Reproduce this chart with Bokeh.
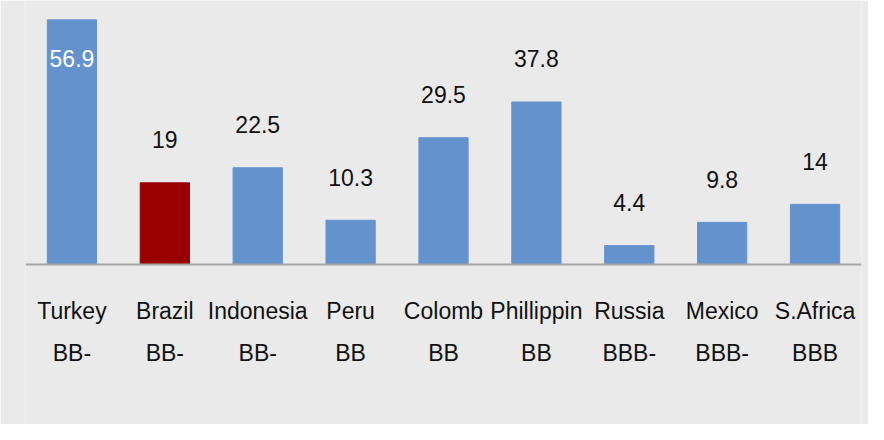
from bokeh.plotting import figure
from bokeh.models import ColumnDataSource, FactorRange, Range1d, Span
from bokeh.core.properties import value
from bokeh.embed import file_html
from bokeh.resources import INLINE

countries = ["Turkey", "Brazil", "Indonesia", "Peru", "Colomb", "Phillippin", "Russia", "Mexico", "S.Africa"]
ratings = ["BB-", "BB-", "BB-", "BB", "BB", "BB", "BBB-", "BBB-", "BBB"]
values = [56.9, 19, 22.5, 10.3, 29.5, 37.8, 4.4, 9.8, 14]
highlight = "Brazil"

BLUE = "#6492CD"
RED = "#990000"
BG = "#EAEAEA"
FONT = "Liberation Sans"

colors = [RED if c == highlight else BLUE for c in countries]
labels = [("%g" % v) for v in values]
ymax = 61.4
inside = [v > ymax - 10 for v in values]
lab_colors = ["white" if i else "#111111" for i in inside]
lab_offsets = [39 if i else -43 for i in inside]

src = ColumnDataSource(dict(
    x=countries, top=values, color=colors, label=labels,
    lab_color=lab_colors, lab_off=lab_offsets, rating=ratings,
    zero=[0] * len(countries),
))

p = figure(width=868, height=424, x_range=FactorRange(*countries),
           y_range=Range1d(-37.2, ymax), output_backend="svg",
           toolbar_location=None, min_border_left=25, min_border_right=7,
           min_border_top=0, min_border_bottom=0)
p.background_fill_color = BG
p.border_fill_color = BG
p.outline_line_color = None
p.xgrid.visible = False
p.ygrid.visible = False
p.xaxis.visible = False
p.yaxis.visible = False

p.vbar(x="x", top="top", bottom=0, width=0.53, color="color", line_color="color",
       source=src)

p.add_layout(Span(location=0, dimension="width", line_color="#A6A6A6", line_width=2))

p.text(x="x", y="top", text="label", text_color="lab_color", y_offset="lab_off",
       text_align="center", text_baseline="middle", text_font=value(FONT),
       text_font_size="23px", source=src)

p.text(x="x", y="zero", text="x", text_color="#111111", y_offset=46,
       text_align="center", text_baseline="middle", text_font=value(FONT),
       text_font_size="23px", source=src)
p.text(x="x", y="zero", text="rating", text_color="#111111", y_offset=88,
       text_align="center", text_baseline="middle", text_font=value(FONT),
       text_font_size="23px", source=src)

open("out.html", "w").write(file_html(p, INLINE))
